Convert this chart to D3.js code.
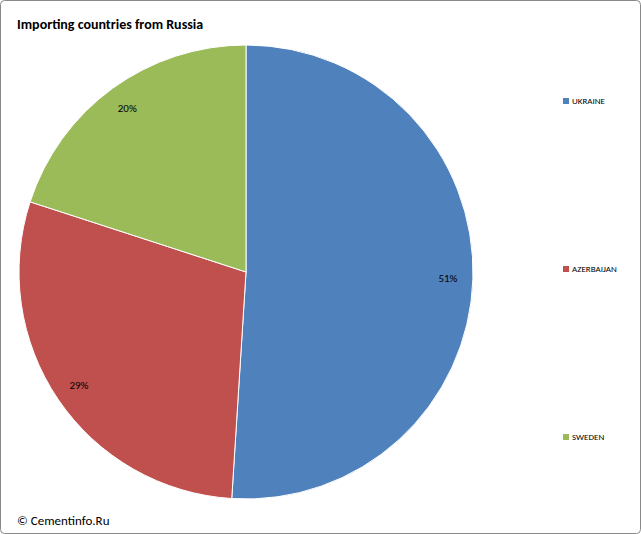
<!DOCTYPE html>
<html><head><meta charset="utf-8">
<script src="https://cdn.jsdelivr.net/npm/d3@7"></script>
<style>body{margin:0;background:#fff;font-family:Calibri,Carlito,"Liberation Sans",Arial,sans-serif}</style>
</head><body>
<script>
const categories = ["UKRAINE", "AZERBAIJAN", "SWEDEN"];
const values = [51, 29, 20];
const colors = ["#4F81BD", "#C0504D", "#9BBB59"];

const W = 641, H = 534;
const svg = d3.select("body").append("svg").attr("width", W).attr("height", H);
svg.append("rect").attr("x", 0.5).attr("y", 0.5).attr("width", W - 1).attr("height", H - 1)
  .attr("rx", 4).attr("fill", "#fff").attr("stroke", "#898989");

svg.append("text").attr("x", 17).attr("y", 29).attr("font-size", 14).attr("font-weight", "bold")
  .text("Importing countries from Russia");

const cx = 246, cy = 272, R = 227;
const pie = d3.pie().sort(null).value(d => d)(values);
const arc = d3.arc().innerRadius(0).outerRadius(R);
const lab = d3.arc().innerRadius(R * 0.89).outerRadius(R * 0.89);
const g = svg.append("g").attr("transform", `translate(${cx},${cy})`);
g.selectAll("path").data(pie).enter().append("path")
  .attr("d", arc).attr("fill", (d, i) => colors[i]).attr("stroke", "#fff").attr("stroke-width", 1);
g.selectAll("text").data(pie).enter().append("text")
  .attr("transform", d => `translate(${lab.centroid(d)})`)
  .attr("text-anchor", "middle").attr("dy", "0.35em").attr("font-size", 11)
  .text(d => d.data + "%");

const ly = d3.scalePoint().domain(categories).range([101, 437]);
const lg = svg.selectAll(".lg").data(categories).enter().append("g")
  .attr("transform", d => `translate(563,${ly(d)})`);
lg.append("rect").attr("x", 0).attr("y", -3).attr("width", 6).attr("height", 6).attr("fill", (d, i) => colors[i]);
lg.append("text").attr("x", 9).attr("dy", "0.35em").attr("font-size", 9).text(d => d);

svg.append("text").attr("x", 17).attr("y", 525).attr("font-size", 13).text("© Cementinfo.Ru");
</script>
</body></html>
